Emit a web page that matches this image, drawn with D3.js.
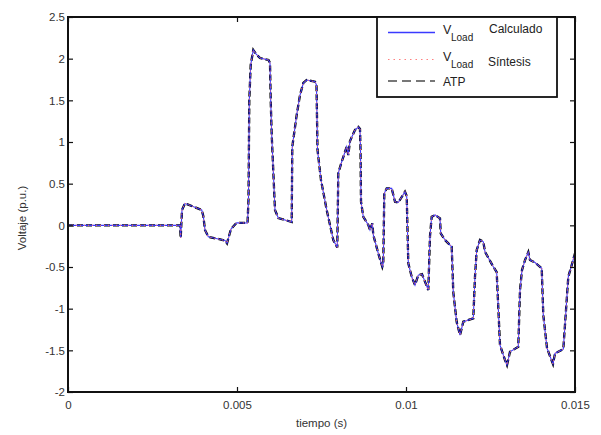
<!DOCTYPE html>
<html><head><meta charset="utf-8">
<script src="https://cdn.jsdelivr.net/npm/d3@7"></script>
<style>
html,body{margin:0;padding:0;background:#fff;}
svg{display:block;font-family:"Liberation Sans",Arial,sans-serif;}
</style></head>
<body>
<svg id="chart" width="601" height="435"></svg>
<script>
// time in milliseconds
const timeMs = [0,3.314,3.334,3.373,3.462,3.956,4.003,4.053,4.151,4.379,4.645,4.704,4.822,4.991,5.311,5.340,5.364,5.405,5.482,5.562,5.680,5.932,5.976,5.997,6.027,6.124,6.222,6.618,6.636,6.766,6.864,6.962,7.062,7.308,7.352,7.382,7.485,7.654,7.849,7.967,7.997,8.098,8.246,8.293,8.343,8.491,8.589,8.639,8.654,8.669,8.737,8.885,8.935,9.003,9.033,9.180,9.299,9.328,9.358,9.429,9.577,9.675,9.772,9.970,10.021,10.068,10.169,10.266,10.364,10.473,10.660,10.710,10.760,10.858,11.006,11.027,11.154,11.352,11.399,11.500,11.598,11.695,11.991,12.041,12.092,12.189,12.287,12.337,12.583,12.683,12.781,12.929,12.988,13.077,13.322,13.373,13.432,13.521,13.618,13.669,13.817,14.015,14.062,14.172,14.260,14.349,14.408,14.654,14.734,14.802,14.902,15.0];
const vCalculado = [0,0,-0.152,0.184,0.264,0.184,0.112,-0.056,-0.137,-0.158,-0.182,-0.216,-0.044,0.031,0.028,0.304,1.503,1.924,2.104,2.056,2.008,1.984,1.948,1.503,1.083,0.184,0.088,0.040,0.944,1.324,1.564,1.708,1.744,1.724,1.684,0.904,0.544,0.184,-0.176,-0.267,0.628,0.763,0.944,0.844,1.012,1.144,1.180,1.156,0.904,0.283,0.103,0.004,-0.056,0.024,-0.116,-0.336,-0.497,-0.453,0.384,0.444,0.444,0.283,0.274,0.403,0.352,-0.456,-0.617,-0.717,-0.597,-0.585,-0.777,-0.128,0.103,0.124,0.084,-0.096,-0.176,-0.257,-0.801,-1.161,-1.317,-1.157,-1.116,-0.617,-0.297,-0.176,-0.197,-0.317,-0.497,-0.561,-1.437,-1.617,-1.677,-1.517,-1.457,-0.777,-0.537,-0.417,-0.321,-0.417,-0.447,-0.516,-1.077,-1.473,-1.569,-1.665,-1.537,-1.485,-1.017,-0.617,-0.477,-0.336];
const vSintesis = vCalculado.slice();
const vATP = vCalculado.slice();

const xTicks = [0, 0.005, 0.01, 0.015];
const xTickLabels = ["0", "0.005", "0.01", "0.015"];
const yTicks = [-2, -1.5, -1, -0.5, 0, 0.5, 1, 1.5, 2, 2.5];
const yTickLabels = ["-2", "-1.5", "-1", "-0.5", "0", "0.5", "1", "1.5", "2", "2.5"];
const seriesNames = ["Calculado", "Síntesis", "ATP"];

const L = 68, R = 575, T = 17, B = 392;
const svg = d3.select("#chart");
const x = d3.scaleLinear().domain([0, 0.015]).range([L, R]);
const y = d3.scaleLinear().domain([-2, 2.5]).range([B, T]);

const mk = vals => timeMs.map((t, i) => [t / 1000, vals[i]]);
const line = d3.line().x(d => x(d[0])).y(d => y(d[1]));

svg.append("clipPath").attr("id", "clp").append("rect")
  .attr("x", L).attr("y", T).attr("width", R - L).attr("height", B - T);
const g = svg.append("g").attr("clip-path", "url(#clp)");

g.append("path").datum(mk(vATP)).attr("d", line)
  .attr("fill", "none").attr("stroke", "#000").attr("stroke-width", 2.3)
  .attr("stroke-dasharray", "6,3");
g.append("path").datum(mk(vCalculado)).attr("d", line)
  .attr("fill", "none").attr("stroke", "#3a3aff").attr("stroke-width", 1.1);
g.append("path").datum(mk(vSintesis)).attr("d", line)
  .attr("fill", "none").attr("stroke", "#ff6a6a").attr("stroke-width", 1)
  .attr("stroke-dasharray", "1,3");

// axes
const tickStyle = sel => sel.call(s => s.select(".domain").remove())
  .call(s => s.selectAll("line").attr("stroke", "#111").attr("stroke-width", 1.2));
svg.append("g").attr("transform", `translate(0,${B})`)
  .call(d3.axisBottom(x).tickValues(xTicks).tickSize(-5).tickPadding(9)
    .tickFormat((d, i) => xTickLabels[i]))
  .call(tickStyle)
  .call(s => s.selectAll("text").attr("font-size", 11.5).attr("fill", "#333")
    .attr("font-family", "Liberation Sans, Arial, sans-serif"));
svg.append("g").attr("transform", `translate(0,${T})`)
  .call(d3.axisTop(x).tickValues(xTicks).tickSize(-5).tickFormat(""))
  .call(tickStyle);
svg.append("g").attr("transform", `translate(${L},0)`)
  .call(d3.axisLeft(y).tickValues(yTicks).tickSize(-5).tickPadding(3)
    .tickFormat((d, i) => yTickLabels[i]))
  .call(tickStyle)
  .call(s => s.selectAll("text").attr("font-size", 11.5).attr("fill", "#333")
    .attr("font-family", "Liberation Sans, Arial, sans-serif"));
svg.append("g").attr("transform", `translate(${R},0)`)
  .call(d3.axisRight(y).tickValues(yTicks).tickSize(-5).tickFormat(""))
  .call(tickStyle);

svg.append("rect").attr("x", L).attr("y", T).attr("width", R - L).attr("height", B - T)
  .attr("fill", "none").attr("stroke", "#111").attr("stroke-width", 2);

// axis titles
svg.append("text").attr("x", (L + R) / 2).attr("y", 427).attr("text-anchor", "middle")
  .attr("font-size", 11.5).attr("fill", "#333").text("tiempo (s)");
svg.append("text").attr("transform", "translate(26,218) rotate(-90)")
  .attr("text-anchor", "middle").attr("font-size", 11.5).attr("fill", "#333")
  .text("Voltaje (p.u.)");

// legend
const lg = svg.append("g");
lg.append("rect").attr("x", 377).attr("y", 17).attr("width", 180).attr("height", 80)
  .attr("fill", "#fff").attr("stroke", "#111").attr("stroke-width", 1.8);
const rows = [
  {y: 32.5, stroke: "#3a3aff", dash: null, w: 1.5, sub: true, label: seriesNames[0], lx: 489, ly: 33},
  {y: 59.5, stroke: "#ff8080", dash: "1.5,4", w: 1.2, sub: true, label: seriesNames[1], lx: 488, ly: 66},
  {y: 81, stroke: "#777", dash: "9,5", w: 2, sub: false, label: seriesNames[2], lx: 443, ly: 86}
];
rows.forEach(r => {
  lg.append("line").attr("x1", 388).attr("x2", 435).attr("y1", r.y).attr("y2", r.y)
    .attr("stroke", r.stroke).attr("stroke-width", r.w)
    .attr("stroke-dasharray", r.dash);
  if (r.sub) {
    const by = r.y + 1.5;
    lg.append("text").attr("x", 443).attr("y", by).attr("font-size", 12.5).attr("fill", "#222").text("V");
    lg.append("text").attr("x", 451).attr("y", by + 6.5).attr("font-size", 10).attr("fill", "#222").text("Load");
  }
  lg.append("text").attr("x", r.lx).attr("y", r.ly).attr("font-size", 12).attr("fill", "#222").text(r.label);
});
</script>
</body></html>
